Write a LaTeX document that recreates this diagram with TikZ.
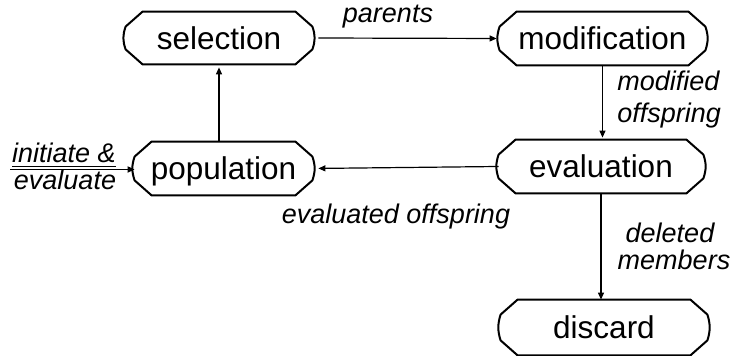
\documentclass[tikz,border=0pt]{standalone}
\usepackage{fontspec}
\setmainfont{Liberation Sans}
\usetikzlibrary{arrows.meta}
\tikzset{
  boxline/.style={line width=1pt, line join=miter},
  stbox/.style={inner sep=0pt, draw=none, font=\fontsize{15.75}{19}\selectfont,
    text height=11.3pt, text depth=0pt, minimum height=26.5pt},
  lbl/.style={inner sep=0pt, font=\fontsize{13.5}{16}\selectfont\itshape, anchor=base},
  arr/.style={line width=0.6pt, -{Triangle[length=3.5pt,width=3pt]}},
}
\newcommand\octo[1]{%
  \draw[boxline] ([xshift=8.5pt]#1.north west) -- ([xshift=-8.5pt]#1.north east)
    -- ([yshift=-7.5pt]#1.north east)
    .. controls ([xshift=1.5pt,yshift=-12pt]#1.north east) and ([xshift=1.5pt,yshift=12pt]#1.south east) ..
    ([yshift=7.5pt]#1.south east) -- ([xshift=-8.5pt]#1.south east)
    -- ([xshift=8.5pt]#1.south west) -- ([yshift=7.5pt]#1.south west)
    .. controls ([xshift=-1.5pt,yshift=12pt]#1.south west) and ([xshift=-1.5pt,yshift=-12pt]#1.north west) ..
    ([yshift=-7.5pt]#1.north west) -- cycle;}
\begin{document}
\begin{tikzpicture}[x=0.5pt,y=-0.5pt]
\useasboundingbox (0,0) rectangle (735,356);
% boxes
\node[stbox, minimum width=93pt, minimum height=26pt] (sel) at (219,38) {selection};
\node[stbox, minimum width=88.5pt] (pop) at (223.5,168.5) {population};
\node[stbox, minimum width=102.5pt] (mod) at (602.5,38.5) {modification};
\node[stbox, minimum width=102pt] (eval) at (601,166.5) {evaluation};
\node[stbox, minimum width=103pt, minimum height=27.5pt] (disc) at (604,327.5) {discard};
\octo{sel}\octo{pop}\octo{mod}\octo{eval}\octo{disc}
% labels
\node[lbl] (lpar) at (388,23) {parents};
\node[lbl, anchor=base west] (lmod1) at (617,91) {modified};
\node[lbl, anchor=base west] (lmod2) at (617,123) {offspring};
\node[lbl] (leval) at (396,224) {evaluated offspring};
\node[lbl] (ldel1) at (670,243) {deleted};
\node[lbl] (ldel2) at (674,270) {members};
\node[lbl] (linit1) at (64,163) {\underline{initiate \&}};
\node[lbl] (linit2) at (65,190) {evaluate};
% connectors
\coordinate (init) at (10,169.5);
\draw[arr, shorten <=3pt, shorten >=1.5pt] (sel.east) -- (mod.west);
\draw[arr, shorten >=1pt] (mod.south) -- (mod.south |- eval.north);
\draw[arr, shorten >=3pt] (eval.west) -- (pop.east);
\draw[arr, shorten >=1.5pt] (sel.south |- pop.north) -- (sel.south);
\draw[arr] (eval.south) -- (eval.south |- disc.north);
\draw[arr, line width=0.9pt] (init) -- (init -| pop.west);
\end{tikzpicture}
\end{document}
